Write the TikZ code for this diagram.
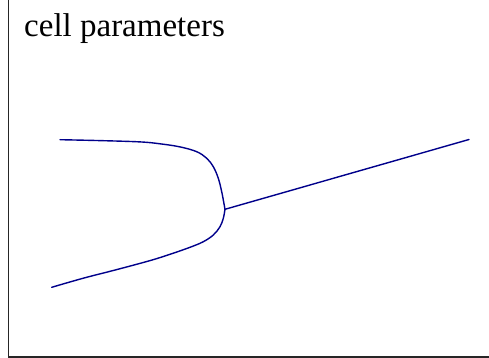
\documentclass[tikz,border=0pt]{standalone}
\usepackage{fontspec}
\setmainfont{Liberation Serif}
\definecolor{branch}{RGB}{0,0,139}
\begin{document}
\begin{tikzpicture}[x=1pt,y=-1pt,
  axisline/.style={line width=1.3pt,black!85},
  curveline/.style={line width=1.4pt,branch,line cap=round,line join=round}]
\useasboundingbox (0,0) rectangle (489,358);
\coordinate (origin) at (8.5,357);
\coordinate (ytop) at (8.5,0);
\coordinate (xend) at (489,357);
\draw[axisline] (ytop) -- (origin) -- (xend);
\node[anchor=base west,inner sep=0pt,font=\fontsize{33}{40}\selectfont] (title) at (24,37) {cell parameters};
\coordinate (junction) at (225,209.3);
\coordinate (rightend) at (469,139.5);
\draw[curveline] plot[smooth,tension=0.6] coordinates {(60,139.7) (100,140.6) (140,141.9) (160,143.8) (180,146.9) (196.7,151.7) (206.7,158.3) (213.3,166.7) (218.3,178.3) (221.7,191.7) (223.4,200.5) (225,209.3)};
\draw[curveline] plot[smooth,tension=0.6] coordinates {(225,209.3) (223.3,218.3) (220,226.7) (213.3,235) (203.3,241.7) (190,247.3) (170,254.3) (150,260.6) (116.7,269.6) (83.3,278.2) (51.7,287.3)};
\draw[curveline] (junction) -- (rightend);
\end{tikzpicture}
\end{document}
